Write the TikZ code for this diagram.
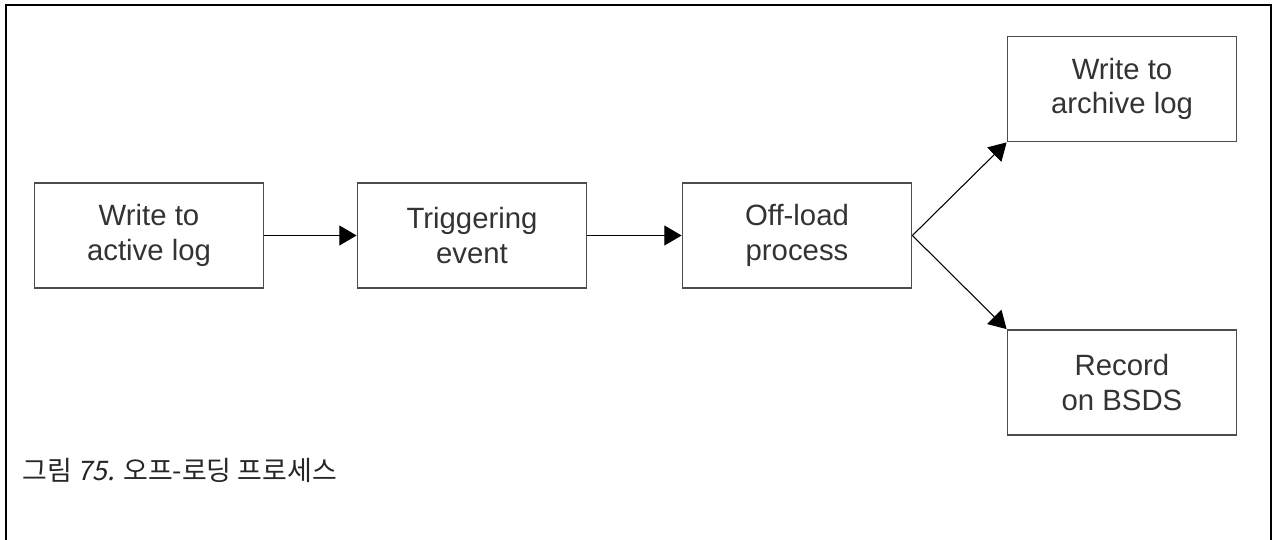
\documentclass[tikz,border=0pt]{standalone}
\usepackage{fontspec}
\setmainfont{Liberation Sans}
\newfontfamily\krfont{Noto Sans CJK KR}
\newfontfamily\kritfont{Noto Sans CJK KR}[FakeSlant=0.2]
\usepackage{xcolor}
\usetikzlibrary{arrows.meta,positioning}

\begin{document}
\begin{tikzpicture}[x=0.75pt,y=-0.75pt,
  box/.style={draw=black!70,line width=1.1pt,minimum width=172pt,minimum height=79pt,
    inner sep=0pt,align=center,text=black!80,font=\fontsize{22}{26}\selectfont},
  arr/.style={-{Triangle[length=13pt,width=15pt]},line width=0.8pt}]
\useasboundingbox (0,0) rectangle (1274,539);
\draw[line width=1.6pt] (6,560)--(6,5)--(1271,5)--(1271,560);
\node[box] (active) at (149,235.5){Write to\\active log};
\node[box] (trigger) at (472,235.5){Triggering\\event};
\node[box] (offload) at (797,235.5){Off-load\\process};
\node[box] (archive) at (1122,89){Write to\\archive log};
\node[box] (bsds) at (1122,382.5){Record\\on BSDS};
\draw[arr] (active.east)--(trigger.west);
\draw[arr] (trigger.east)--(offload.west);
\draw[arr] (offload.east)--(archive.south west);
\draw[arr] (offload.east)--(bsds.north west);
\node[anchor=base west,inner sep=0pt,text=black!85,font=\fontsize{20.2}{24}\krfont] (caption) at (22,480){그림 {\kritfont 75.} 오프-로딩 프로세스};
\end{tikzpicture}
\end{document}
